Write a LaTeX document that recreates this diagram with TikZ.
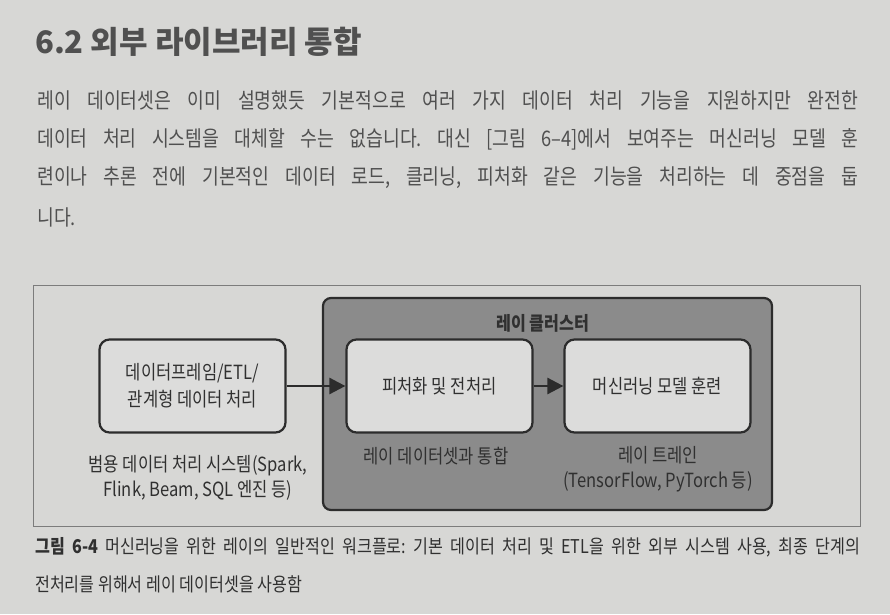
\documentclass[tikz,border=0pt]{standalone}
\usepackage{fontspec}
\setmainfont{Noto Sans CJK KR}[FakeStretch=0.85]
\newfontfamily\headfont{Noto Sans CJK KR}
\usetikzlibrary{arrows.meta}
\frenchspacing

\definecolor{page}{HTML}{D7D7D5}
\definecolor{frameline}{HTML}{7C7C7C}
\definecolor{clusterfill}{HTML}{8B8B8B}
\definecolor{boxfill}{HTML}{DCDCDB}
\definecolor{boxline}{HTML}{2C2C2C}
\definecolor{bodytext}{HTML}{505050}
\definecolor{figtext}{HTML}{303030}

\begin{document}
\begin{tikzpicture}[x=1pt,y=-1pt]

    \fill[page] (0,0) rectangle (890,614);
    \useasboundingbox (0,0) rectangle (890,614);

        % heading and paragraph
        \begin{scope}[every node/.style={anchor=west,inner sep=0pt,text=bodytext}]
            \node (h) at (35,42) {\headfont\bfseries\fontsize{31}{34}\selectfont 6.2 외부 라이브러리 통합};
            \node[font=\fontsize{21.5}{24}\selectfont] (p1) at (37,100) {\makebox[821pt][s]{레이 데이터셋은 이미 설명했듯 기본적으로 여러 가지 데이터 처리 기능을 지원하지만 완전한}};
            \node[font=\fontsize{21.5}{24}\selectfont] (p2) at (37,139) {\makebox[821pt][s]{데이터 처리 시스템을 대체할 수는 없습니다. 대신 [그림 6–4]에서 보여주는 머신러닝 모델 훈}};
            \node[font=\fontsize{21.5}{24}\selectfont] (p3) at (37,178) {\makebox[821pt][s]{련이나 추론 전에 기본적인 데이터 로드, 클리닝, 피처화 같은 기능을 처리하는 데 중점을 둡}};
            \node[font=\fontsize{21.5}{24}\selectfont] (p4) at (37,217) {니다.};
        \end{scope}

        % figure frame
        \draw[frameline,line width=1pt] (33,285) rectangle (860,526);

        \node[draw=boxline,line width=2.2pt,rounded corners=8pt,fill=clusterfill,
              minimum width=449pt,minimum height=212pt] (4) at (547.5,404) {};

        \begin{scope}[every node/.style={draw=boxline,line width=2.2pt,rounded corners=10pt,fill=boxfill,
                      minimum width=186pt,minimum height=93pt,align=center,text=figtext,
                      font=\fontsize{19.5}{27}\selectfont}]
            \node (1) at (192.5,386) {데이터프레임/ETL/\\관계형 데이터 처리};
            \node (2) at (439.5,386) {피처화 및 전처리};
            \node (3) at (657.5,386) {머신러닝 모델 훈련};
        \end{scope}

        \begin{scope}[every edge/.style={draw=boxline,line width=2.6pt,-{Triangle[length=16pt,width=16pt]}}]
            \path (1) edge (2);
            \path (2) edge (3);
        \end{scope}

        \begin{scope}[every node/.style={align=center,text=figtext,font=\fontsize{19.5}{25}\selectfont}]
            \node[font=\bfseries\fontsize{19}{25}\selectfont] (t4) at (543,323) {레이 클러스터};
            \node (t1) at (198,478) {범용 데이터 처리 시스템(Spark,\\Flink, Beam, SQL 엔진 등)};
            \node (t2) at (436,456) {레이 데이터셋과 통합};
            \node (t3) at (658,469) {레이 트레인\\(TensorFlow, PyTorch 등)};
        \end{scope}

        % caption
        \begin{scope}[every node/.style={anchor=west,inner sep=0pt,text=figtext,font=\fontsize{19}{22}\selectfont}]
            \node (c1) at (35,547) {\makebox[825pt][s]{\textbf{그림 6-4} 머신러닝을 위한 레이의 일반적인 워크플로: 기본 데이터 처리 및 ETL을 위한 외부 시스템 사용, 최종 단계의}};
            \node (c2) at (35,584) {전처리를 위해서 레이 데이터셋을 사용함};
        \end{scope}

    \end{tikzpicture}
\end{document}
